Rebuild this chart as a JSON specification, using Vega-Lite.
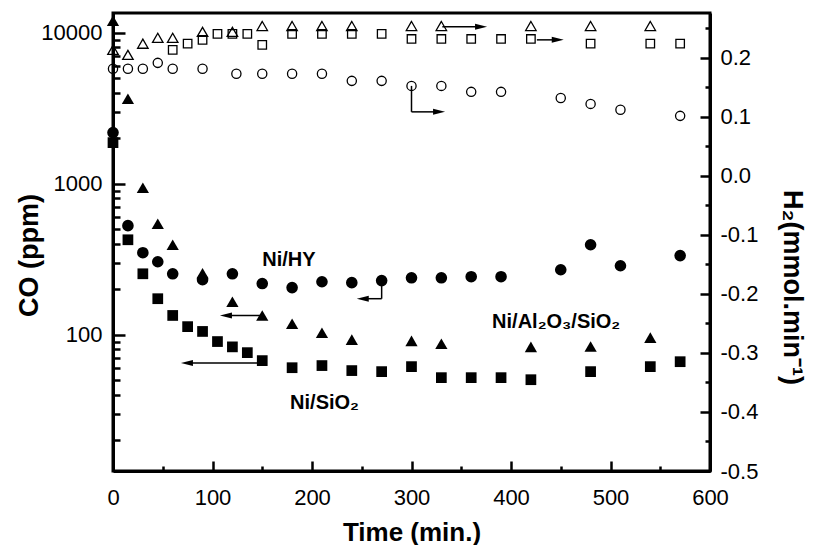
{
  "$schema": "https://vega.github.io/schema/vega-lite/v6.json",
  "width": 597,
  "height": 458,
  "autosize": {"type": "none"},
  "padding": {"left": 113, "top": 13, "right": 103, "bottom": 74},
  "background": "white",
  "config": {
    "view": {"stroke": "black", "strokeWidth": 3},
    "axis": {
      "grid": false,
      "domainColor": "black",
      "domainWidth": 3,
      "tickColor": "black",
      "tickWidth": 2.5,
      "labelFont": "Liberation Sans",
      "labelFontSize": 22,
      "labelColor": "black",
      "labelOverlap": false,
      "labelFlush": false,
      "labelBound": false,
      "titleFont": "Liberation Sans",
      "titleFontSize": 26,
      "titleFontWeight": "bold",
      "titleColor": "black",
      "titleBaseline": "alphabetic"
    }
  },
  "datasets": {
    "co": [
      {"t": 0, "v": 2180, "s": "HY"}, {"t": 15, "v": 527, "s": "HY"}, {"t": 30, "v": 349, "s": "HY"}, {"t": 45, "v": 304, "s": "HY"},
      {"t": 60, "v": 253, "s": "HY"}, {"t": 90, "v": 231, "s": "HY"}, {"t": 120, "v": 253, "s": "HY"}, {"t": 150, "v": 218, "s": "HY"},
      {"t": 180, "v": 205, "s": "HY"}, {"t": 210, "v": 224, "s": "HY"}, {"t": 240, "v": 221, "s": "HY"}, {"t": 270, "v": 228, "s": "HY"},
      {"t": 300, "v": 238, "s": "HY"}, {"t": 330, "v": 238, "s": "HY"}, {"t": 360, "v": 242, "s": "HY"}, {"t": 390, "v": 242, "s": "HY"},
      {"t": 450, "v": 269, "s": "HY"}, {"t": 480, "v": 394, "s": "HY"}, {"t": 510, "v": 286, "s": "HY"}, {"t": 570, "v": 334, "s": "HY"},
      {"t": 0, "v": 12000, "s": "AS"}, {"t": 15, "v": 3650, "s": "AS"}, {"t": 30, "v": 940, "s": "AS"}, {"t": 45, "v": 543, "s": "AS"},
      {"t": 60, "v": 394, "s": "AS"}, {"t": 90, "v": 255, "s": "AS"}, {"t": 120, "v": 165, "s": "AS"}, {"t": 150, "v": 134, "s": "AS"},
      {"t": 180, "v": 118, "s": "AS"}, {"t": 210, "v": 103, "s": "AS"}, {"t": 240, "v": 92.7, "s": "AS"}, {"t": 300, "v": 91, "s": "AS"},
      {"t": 330, "v": 87, "s": "AS"}, {"t": 420, "v": 83, "s": "AS"}, {"t": 480, "v": 83.5, "s": "AS"}, {"t": 540, "v": 95.5, "s": "AS"},
      {"t": 0, "v": 1870, "s": "S"}, {"t": 15, "v": 425, "s": "S"}, {"t": 30, "v": 253, "s": "S"}, {"t": 45, "v": 173, "s": "S"},
      {"t": 60, "v": 134, "s": "S"}, {"t": 75, "v": 113, "s": "S"}, {"t": 90, "v": 105, "s": "S"}, {"t": 105, "v": 90, "s": "S"},
      {"t": 120, "v": 83, "s": "S"}, {"t": 135, "v": 76, "s": "S"}, {"t": 150, "v": 67.3, "s": "S"}, {"t": 180, "v": 60.4, "s": "S"},
      {"t": 210, "v": 62.4, "s": "S"}, {"t": 240, "v": 57.8, "s": "S"}, {"t": 270, "v": 56.9, "s": "S"}, {"t": 300, "v": 61.4, "s": "S"},
      {"t": 330, "v": 51.9, "s": "S"}, {"t": 360, "v": 51.9, "s": "S"}, {"t": 390, "v": 51.9, "s": "S"}, {"t": 420, "v": 50.3, "s": "S"},
      {"t": 480, "v": 56.9, "s": "S"}, {"t": 540, "v": 61.4, "s": "S"}, {"t": 570, "v": 66.2, "s": "S"}
    ],
    "h2": [
      {"t": 0, "v": 0.2136, "s": "tri"}, {"t": 15, "v": 0.205, "s": "tri"}, {"t": 30, "v": 0.224, "s": "tri"}, {"t": 45, "v": 0.234, "s": "tri"},
      {"t": 60, "v": 0.234, "s": "tri"}, {"t": 90, "v": 0.244, "s": "tri"}, {"t": 120, "v": 0.244, "s": "tri"}, {"t": 150, "v": 0.254, "s": "tri"},
      {"t": 180, "v": 0.254, "s": "tri"}, {"t": 210, "v": 0.254, "s": "tri"}, {"t": 240, "v": 0.254, "s": "tri"}, {"t": 300, "v": 0.254, "s": "tri"},
      {"t": 330, "v": 0.254, "s": "tri"}, {"t": 420, "v": 0.254, "s": "tri"}, {"t": 480, "v": 0.254, "s": "tri"}, {"t": 540, "v": 0.254, "s": "tri"},
      {"t": 60, "v": 0.2136, "s": "sq"}, {"t": 75, "v": 0.224, "s": "sq"}, {"t": 90, "v": 0.2305, "s": "sq"}, {"t": 105, "v": 0.2407, "s": "sq"},
      {"t": 120, "v": 0.2407, "s": "sq"}, {"t": 135, "v": 0.2407, "s": "sq"}, {"t": 150, "v": 0.222, "s": "sq"}, {"t": 180, "v": 0.2407, "s": "sq"},
      {"t": 210, "v": 0.2407, "s": "sq"}, {"t": 240, "v": 0.2407, "s": "sq"}, {"t": 270, "v": 0.2407, "s": "sq"}, {"t": 300, "v": 0.232, "s": "sq"},
      {"t": 330, "v": 0.232, "s": "sq"}, {"t": 360, "v": 0.232, "s": "sq"}, {"t": 390, "v": 0.232, "s": "sq"}, {"t": 420, "v": 0.232, "s": "sq"},
      {"t": 480, "v": 0.224, "s": "sq"}, {"t": 540, "v": 0.224, "s": "sq"}, {"t": 570, "v": 0.224, "s": "sq"},
      {"t": 0, "v": 0.1814, "s": "ci"}, {"t": 15, "v": 0.1814, "s": "ci"}, {"t": 30, "v": 0.1814, "s": "ci"}, {"t": 45, "v": 0.1915, "s": "ci"},
      {"t": 60, "v": 0.1814, "s": "ci"}, {"t": 90, "v": 0.1814, "s": "ci"}, {"t": 124, "v": 0.173, "s": "ci"}, {"t": 150, "v": 0.173, "s": "ci"},
      {"t": 180, "v": 0.173, "s": "ci"}, {"t": 210, "v": 0.173, "s": "ci"}, {"t": 240, "v": 0.161, "s": "ci"}, {"t": 270, "v": 0.161, "s": "ci"},
      {"t": 300, "v": 0.1525, "s": "ci"}, {"t": 330, "v": 0.1525, "s": "ci"}, {"t": 360, "v": 0.1424, "s": "ci"}, {"t": 390, "v": 0.1424, "s": "ci"},
      {"t": 450, "v": 0.132, "s": "ci"}, {"t": 480, "v": 0.122, "s": "ci"}, {"t": 510, "v": 0.112, "s": "ci"}, {"t": 570, "v": 0.1017, "s": "ci"}
    ],
    "arrL": [
      {"t": 151, "t2": 113, "v": 134, "v2": 134},
      {"t": 151, "t2": 74, "v": 65, "v2": 65},
      {"t": 270, "t2": 270, "v": 228, "v2": 173},
      {"t": 270, "t2": 251, "v": 173, "v2": 173}
    ],
    "headL": [
      {"t": 113.5, "v": 134},
      {"t": 74.3, "v": 65},
      {"t": 251, "v": 173}
    ],
    "arrR": [
      {"t": 300, "t2": 300, "v": 0.1525, "v2": 0.1085},
      {"t": 300, "t2": 328, "v": 0.1085, "v2": 0.1085},
      {"t": 331, "t2": 370, "v": 0.2525, "v2": 0.2525},
      {"t": 426, "t2": 447, "v": 0.2305, "v2": 0.2305}
    ],
    "headR": [
      {"t": 327.7, "v": 0.1085},
      {"t": 369.9, "v": 0.2525},
      {"t": 447, "v": 0.2305}
    ],
    "labels": [
      {"t": 150, "v": 314, "label": "Ni/HY"},
      {"t": 381, "v": 122, "label": "Ni/Al₂O₃/SiO₂"},
      {"t": 178, "v": 35.5, "label": "Ni/SiO₂"}
    ]
  },
  "encoding": {
    "x": {
      "field": "t",
      "type": "quantitative",
      "scale": {"domain": [0, 600], "nice": false, "zero": false},
      "axis": {
        "title": "Time (min.)",
        "values": [0, 50, 100, 150, 200, 250, 300, 350, 400, 450, 500, 550, 600],
        "labelExpr": "datum.value % 100 === 0 ? format(datum.value, 'd') : ''",
        "tickSize": {"condition": {"test": "datum.value % 100 === 0", "value": -10}, "value": -5},
        "labelPadding": 26,
        "titleY": 69
      }
    }
  },
  "layer": [
    {
      "encoding": {
        "y": {
          "field": "v",
          "type": "quantitative",
          "scale": {"type": "log", "domain": [12.5, 13500], "nice": false},
          "axis": {
            "orient": "left",
            "title": "CO (ppm)",
            "values": [20, 30, 40, 50, 60, 70, 80, 90, 100, 200, 300, 400, 500, 600, 700, 800, 900, 1000, 2000, 3000, 4000, 5000, 6000, 7000, 8000, 9000, 10000],
            "labelExpr": "indexof([100, 1000, 10000], datum.value) >= 0 ? format(datum.value, 'd') : ''",
            "tickSize": {"condition": {"test": "indexof([100, 1000, 10000], datum.value) >= 0", "value": -12}, "value": -7},
            "labelPadding": 23,
            "titleFontSize": 27,
            "titleX": -76,
            "titleY": 242
          }
        }
      },
      "layer": [
        {
          "data": {"name": "co"},
          "transform": [{"filter": "datum.s === 'HY'"}],
          "mark": {"type": "point", "shape": "circle", "filled": true, "color": "black", "size": 135, "opacity": 1}
        },
        {
          "data": {"name": "co"},
          "transform": [{"filter": "datum.s === 'AS'"}],
          "mark": {"type": "point", "shape": "triangle-up", "filled": true, "color": "black", "size": 150, "opacity": 1}
        },
        {
          "data": {"name": "co"},
          "transform": [{"filter": "datum.s === 'S'"}],
          "mark": {"type": "point", "shape": "square", "filled": true, "color": "black", "size": 115, "opacity": 1}
        },
        {
          "data": {"name": "arrL"},
          "mark": {"type": "rule", "color": "black", "strokeWidth": 1.5},
          "encoding": {"x2": {"field": "t2"}, "y2": {"field": "v2"}}
        },
        {
          "data": {"name": "headL"},
          "mark": {"type": "point", "shape": "M-1,0L1,-0.5L1,0.5Z", "filled": true, "color": "black", "size": 144, "opacity": 1}
        },
        {
          "data": {"name": "labels"},
          "mark": {"type": "text", "align": "left", "baseline": "middle", "font": "Liberation Sans", "fontSize": 20, "fontWeight": "bold", "color": "black"},
          "encoding": {"text": {"field": "label"}}
        }
      ]
    },
    {
      "encoding": {
        "y": {
          "field": "v",
          "type": "quantitative",
          "scale": {"domain": [-0.5, 0.276], "nice": false, "zero": false},
          "axis": {
            "orient": "right",
            "title": "H₂(mmol.min⁻¹)",
            "titleAngle": 90,
            "titleFontSize": 27,
            "titleX": 73,
            "titleY": 274,
            "values": [-0.5, -0.45, -0.4, -0.35, -0.3, -0.25, -0.2, -0.15, -0.1, -0.05, 0, 0.05, 0.1, 0.15, 0.2, 0.25],
            "labelExpr": "abs(datum.value * 10 - round(datum.value * 10)) < 0.001 ? replace(format(datum.value, '.1f'), '\u2212', '-') : ''",
            "tickSize": {"condition": {"test": "abs(datum.value * 10 - round(datum.value * 10)) < 0.001", "value": -10}, "value": -5},
            "labelPadding": 20
          }
        }
      },
      "layer": [
        {
          "data": {"name": "h2"},
          "transform": [{"filter": "datum.s === 'tri'"}],
          "mark": {"type": "point", "shape": "triangle-up", "filled": false, "color": "black", "size": 110, "strokeWidth": 1.3, "opacity": 1}
        },
        {
          "data": {"name": "h2"},
          "transform": [{"filter": "datum.s === 'sq'"}],
          "mark": {"type": "point", "shape": "square", "filled": false, "color": "black", "size": 72, "strokeWidth": 1.3, "opacity": 1}
        },
        {
          "data": {"name": "h2"},
          "transform": [{"filter": "datum.s === 'ci'"}],
          "mark": {"type": "point", "shape": "circle", "filled": false, "color": "black", "size": 85, "strokeWidth": 1.3, "opacity": 1}
        },
        {
          "data": {"name": "arrR"},
          "mark": {"type": "rule", "color": "black", "strokeWidth": 1.5},
          "encoding": {"x2": {"field": "t2"}, "y2": {"field": "v2"}}
        },
        {
          "data": {"name": "headR"},
          "mark": {"type": "point", "shape": "M1,0L-1,-0.5L-1,0.5Z", "filled": true, "color": "black", "size": 144, "opacity": 1}
        }
      ]
    }
  ],
  "resolve": {"scale": {"y": "independent"}, "axis": {"y": "independent"}}
}
